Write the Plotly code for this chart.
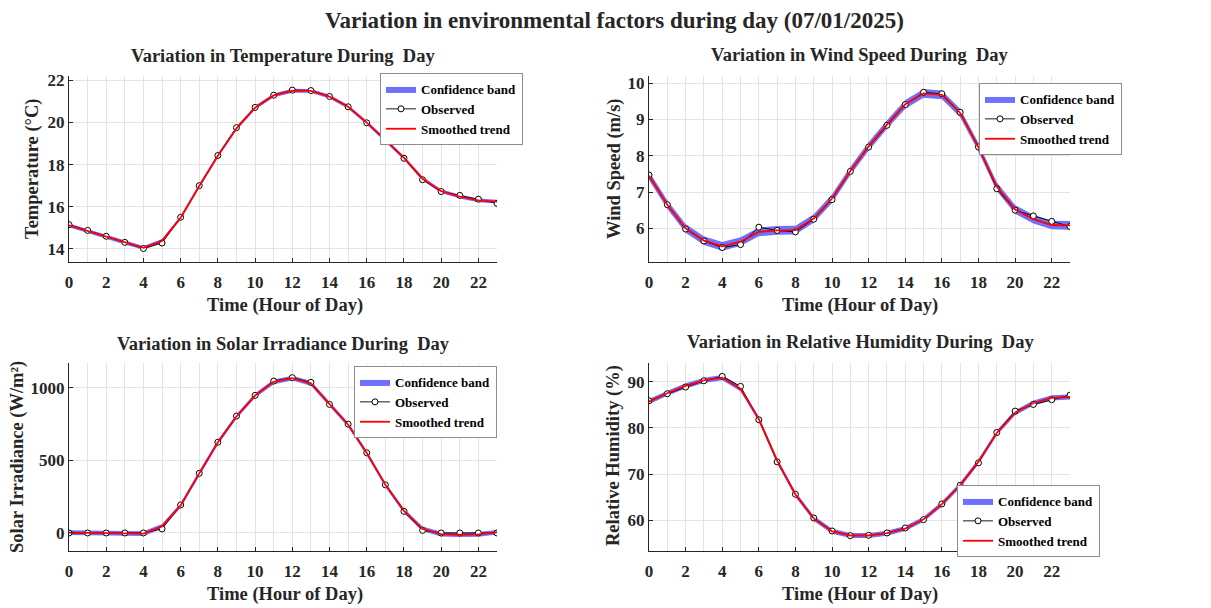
import plotly.graph_objects as go

hours = list(range(24))

temp_obs = [15.15, 14.88, 14.60, 14.31, 14.02, 14.28, 15.50, 17.00, 18.43, 19.75, 20.71, 21.29,
            21.53, 21.51, 21.23, 20.74, 19.98, 19.15, 18.30, 17.28, 16.72, 16.54, 16.36, 16.16]
temp_smooth = [15.12, 14.85, 14.57, 14.30, 14.05, 14.38, 15.48, 16.98, 18.42, 19.72, 20.70, 21.28,
               21.50, 21.49, 21.22, 20.74, 19.99, 19.17, 18.32, 17.33, 16.74, 16.48, 16.30, 16.24]
temp_band = 0.09

wind_obs = [7.47, 6.65, 5.98, 5.65, 5.47, 5.55, 6.03, 5.94, 5.90, 6.25, 6.79, 7.57,
            8.24, 8.84, 9.41, 9.75, 9.71, 9.20, 8.24, 7.09, 6.50, 6.34, 6.19, 6.05]
wind_smooth = [7.45, 6.65, 6.00, 5.66, 5.50, 5.63, 5.90, 5.94, 5.95, 6.27, 6.82, 7.58,
               8.26, 8.86, 9.42, 9.72, 9.68, 9.18, 8.23, 7.15, 6.52, 6.25, 6.09, 6.08]
wind_band = 0.12

solar_obs = [0, 0, 0, 0, 0, 28, 193, 411, 625, 805, 947, 1046,
             1069, 1037, 885, 749, 552, 331, 149, 18, 0, 0, 0, 0]
solar_smooth = [2, 0, -2, -3, -4, 45, 190, 410, 624, 802, 946, 1040,
                1066, 1030, 890, 745, 550, 332, 152, 28, -8, -12, -10, 5]
solar_band = 16

hum_obs = [85.88, 87.40, 88.84, 90.20, 91.16, 89.00, 81.76, 72.65, 65.63, 60.50, 57.68, 56.67,
           56.74, 57.25, 58.33, 60.14, 63.54, 67.58, 72.43, 79.00, 83.64, 85.08, 86.10, 87.10]
hum_smooth = [85.70, 87.50, 89.10, 90.30, 90.90, 88.50, 81.90, 72.90, 65.60, 60.40, 57.60, 56.70,
              56.70, 57.20, 58.20, 60.20, 63.50, 67.60, 72.70, 78.90, 83.30, 85.40, 86.50, 86.70]
hum_band = 0.55

FONT = "Liberation Serif"
BAND_COLOR = "rgb(112,112,250)"

fig = go.Figure()

panels = [
    ("x", "y", "legend", temp_obs, temp_smooth, temp_band),
    ("x2", "y2", "legend2", wind_obs, wind_smooth, wind_band),
    ("x3", "y3", "legend3", solar_obs, solar_smooth, solar_band),
    ("x4", "y4", "legend4", hum_obs, hum_smooth, hum_band),
]

for xa, ya, lg, obs, sm, bw in panels:
    upper = [v + bw for v in sm]
    lower = [v - bw for v in sm]
    fig.add_trace(go.Scatter(
        x=hours + hours[::-1], y=upper + lower[::-1], fill="toself",
        fillcolor=BAND_COLOR, line=dict(width=0, color=BAND_COLOR),
        mode="lines", name="Confidence band", xaxis=xa, yaxis=ya, legend=lg,
        hoverinfo="skip"))
    fig.add_trace(go.Scatter(
        x=hours, y=obs, mode="lines+markers", name="Observed",
        line=dict(color="black", width=0.9),
        marker=dict(symbol="circle", size=6, color="white",
                    line=dict(color="black", width=1)),
        xaxis=xa, yaxis=ya, legend=lg))
    fig.add_trace(go.Scatter(
        x=hours, y=sm, mode="lines", name="Smoothed trend",
        line=dict(color="red", width=1.8),
        xaxis=xa, yaxis=ya, legend=lg))

W, H = 1211, 608
def fx(px):
    return px / W
def fy(py):
    return 1 - py / H

col_l = [fx(69), fx(497)]
col_r = [fx(649), fx(1070)]
row_t = [fy(262), fy(76)]
row_b = [fy(551), fy(363)]

tickfont = dict(family=FONT, size=17, color="#262626", weight="bold")

def xaxis(domain, anchor):
    return dict(domain=domain, anchor=anchor, range=[0, 23], tickmode="array",
                tickvals=list(range(0, 23, 2)), showgrid=True, gridcolor="#e3e3e3",
                gridwidth=1, minor=dict(tickmode="array", tickvals=list(range(1, 24, 2)),
                                        showgrid=True, gridcolor="#e3e3e3"),
                showline=True, linecolor="#262626", linewidth=1, ticks="inside",
                ticklen=4, tickcolor="#262626", tickfont=tickfont, zeroline=False,
                ticklabelstandoff=5,
                automargin=False, fixedrange=True)

def yaxis(domain, anchor, rng, tvals):
    return dict(domain=domain, anchor=anchor, range=rng, tickmode="array",
                tickvals=tvals, showgrid=True, gridcolor="#e3e3e3", gridwidth=1,
                showline=True, linecolor="#262626", linewidth=1, ticks="inside",
                ticklen=4, tickcolor="#262626", tickfont=tickfont, zeroline=False,
                automargin=False, fixedrange=True)

legend_common = dict(font=dict(family=FONT, size=13, color="black", weight="bold"),
                     bgcolor="white", bordercolor="#8c8c8c", borderwidth=1,
                     itemwidth=30, xanchor="right", yanchor="top", tracegroupgap=0)

annotations = []
def ann(text, x, y, size, angle=0):
    annotations.append(dict(text=text, x=fx(x), y=fy(y), xref="paper", yref="paper",
                            showarrow=False, xanchor="center", yanchor="middle",
                            textangle=angle,
                            font=dict(family=FONT, size=size, color="#262626", weight="bold")))

ann("Variation in environmental factors during day (07/01/2025)", 615, 20, 23)
ann("Variation in Temperature During\u00a0 Day", 283, 56, 18.5)
ann("Variation in Wind Speed During\u00a0 Day", 860, 55, 18.5)
ann("Variation in Solar Irradiance During\u00a0 Day", 283, 344, 18.5)
ann("Variation in Relative Humidity During\u00a0 Day", 860, 342, 18.5)
ann("Time (Hour of Day)", 285, 305, 18.5)
ann("Time (Hour of Day)", 860, 305, 18.5)
ann("Time (Hour of Day)", 285, 594, 18.5)
ann("Time (Hour of Day)", 860, 594, 18.5)
ann("Temperature (°C)", 32, 169, 18.5, -90)
ann("Wind Speed (m/s)", 614, 169, 18.5, -90)
ann("Solar Irradiance (W/m²)", 17, 457, 18.5, -90)
ann("Relative Humidity (%)", 613, 456, 18.5, -90)

fig.update_layout(
    width=W, height=H, margin=dict(l=0, r=0, t=0, b=0),
    paper_bgcolor="white", plot_bgcolor="white",
    xaxis=xaxis(col_l, "y"), yaxis=yaxis(row_t, "x", [13.38, 22.2], [14, 16, 18, 20, 22]),
    xaxis2=xaxis(col_r, "y2"), yaxis2=yaxis(row_t, "x2", [5.07, 10.2], [6, 7, 8, 9, 10]),
    xaxis3=xaxis(col_l, "y3"), yaxis3=yaxis(row_b, "x3", [-124, 1170], [0, 500, 1000]),
    xaxis4=xaxis(col_r, "y4"), yaxis4=yaxis(row_b, "x4", [53.34, 94.06], [60, 70, 80, 90]),
    legend=dict(x=fx(523), y=fy(73), **legend_common),
    legend2=dict(x=fx(1122), y=fy(83), **legend_common),
    legend3=dict(x=fx(497), y=fy(366), **legend_common),
    legend4=dict(x=fx(1100), y=fy(485), **legend_common),
    annotations=annotations,
    showlegend=True,
)

fig.write_html("out.html")
